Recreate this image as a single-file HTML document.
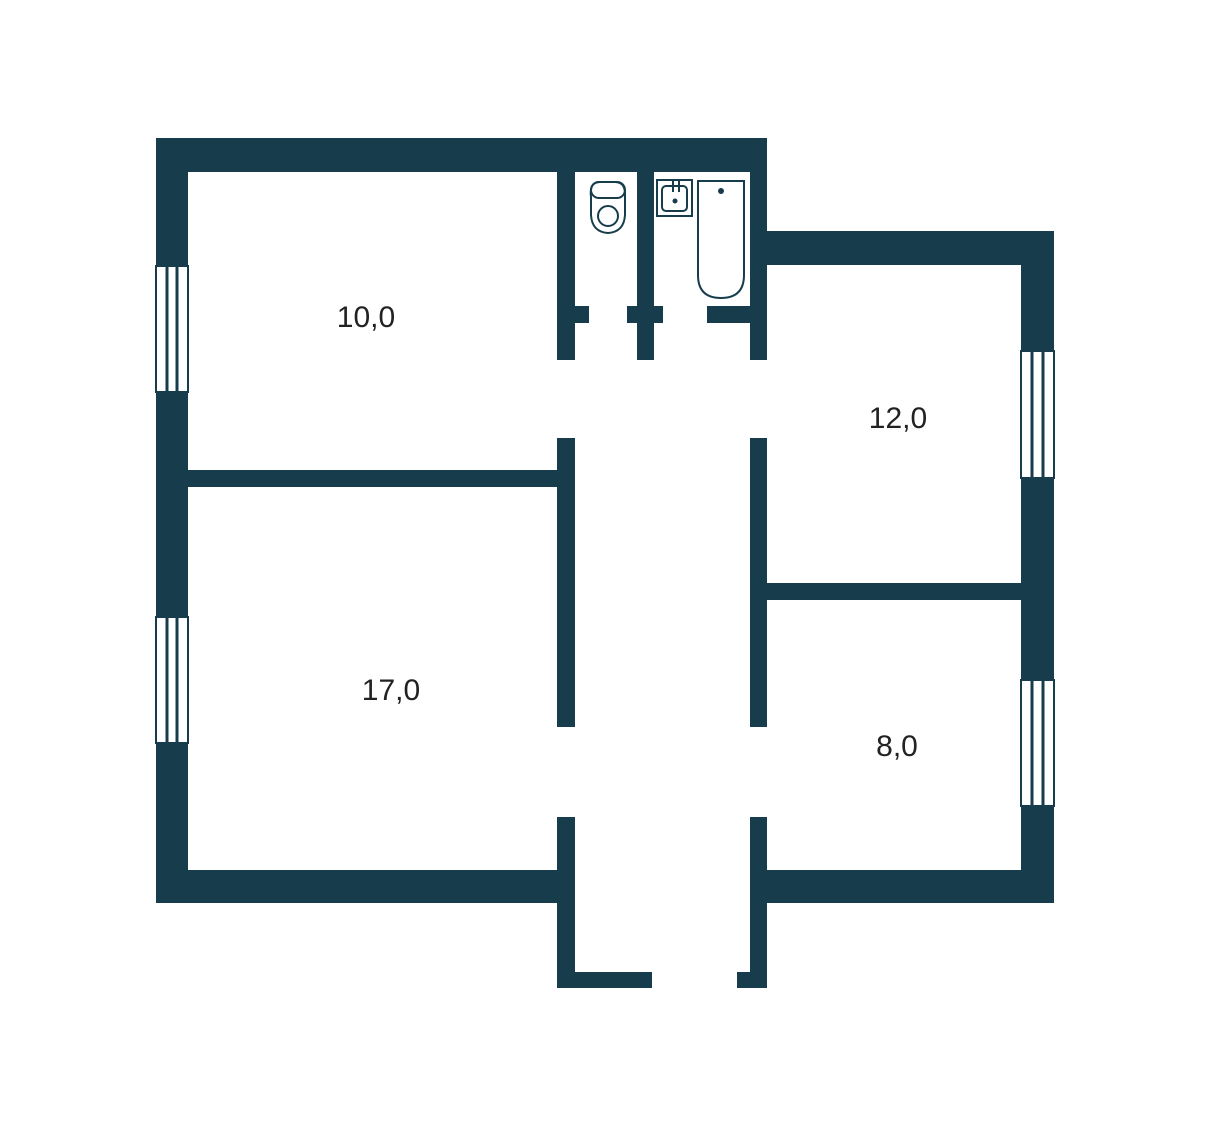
<!DOCTYPE html>
<html><head><meta charset="utf-8"><style>
html,body{margin:0;padding:0;background:#fff}
svg{display:block}
</style></head><body>
<svg width="1217" height="1132" viewBox="0 0 1217 1132" xmlns="http://www.w3.org/2000/svg">
<g fill="#173d4c">
<rect x="156" y="138" width="611" height="34"/>
<rect x="156" y="138" width="32" height="765"/>
<rect x="156" y="870" width="419" height="33"/>
<rect x="750" y="138" width="17" height="222"/>
<rect x="750" y="231" width="304" height="34"/>
<rect x="1021" y="231" width="33" height="672"/>
<rect x="750" y="870" width="304" height="33"/>
<rect x="557" y="172" width="18" height="188"/>
<rect x="557" y="438" width="18" height="289"/>
<rect x="557" y="817" width="18" height="171"/>
<rect x="557" y="972" width="95" height="16"/>
<rect x="750" y="438" width="17" height="289"/>
<rect x="750" y="817" width="17" height="171"/>
<rect x="737" y="972" width="30" height="16"/>
<rect x="637" y="172" width="17" height="188"/>
<rect x="575" y="306" width="14" height="17"/>
<rect x="627" y="306" width="36" height="17"/>
<rect x="707" y="306" width="43" height="17"/>
<rect x="188" y="470" width="369" height="17"/>
<rect x="767" y="583" width="254" height="17"/>
</g>
<g fill="#fff" stroke="#173d4c" stroke-width="2">
<rect x="156" y="266" width="32" height="126"/>
<rect x="156" y="617" width="32" height="126"/>
<rect x="1021" y="351" width="33" height="127"/>
<rect x="1021" y="680" width="33" height="126"/>
</g>
<g stroke="#173d4c" stroke-width="3">
<line x1="167" y1="266" x2="167" y2="392"/><line x1="177" y1="266" x2="177" y2="392"/>
<line x1="167" y1="617" x2="167" y2="743"/><line x1="177" y1="617" x2="177" y2="743"/>
<line x1="1032" y1="351" x2="1032" y2="478"/><line x1="1043" y1="351" x2="1043" y2="478"/>
<line x1="1032" y1="680" x2="1032" y2="806"/><line x1="1043" y1="680" x2="1043" y2="806"/>
</g>
<g fill="none" stroke="#173d4c" stroke-width="2">
<path d="M591 197 Q589 182 600 182 L615 182 Q626 182 625 197 L625 215 Q624 232 608 233 Q592 232 591 215 Z"/>
<rect x="591" y="182" width="34" height="16" rx="8"/>
<circle cx="608" cy="216" r="10"/>
<rect x="657" y="180" width="35" height="36"/>
<rect x="662" y="186" width="25" height="25" rx="4"/>
<line x1="673" y1="181" x2="673" y2="192"/><line x1="679" y1="181" x2="679" y2="192"/>
<path d="M698 181 L744 181 L744 275 Q744 298 721 298 Q698 298 698 275 Z"/>
</g>
<circle cx="675" cy="201" r="2.5" fill="#173d4c"/>
<circle cx="721" cy="191" r="3" fill="#173d4c"/>
<g font-family="Liberation Sans, sans-serif" font-size="30" fill="#222" text-anchor="middle">
<text x="366" y="327">10,0</text>
<text x="898" y="428">12,0</text>
<text x="391" y="700">17,0</text>
<text x="897" y="756">8,0</text>
</g>
</svg>
</body></html>
